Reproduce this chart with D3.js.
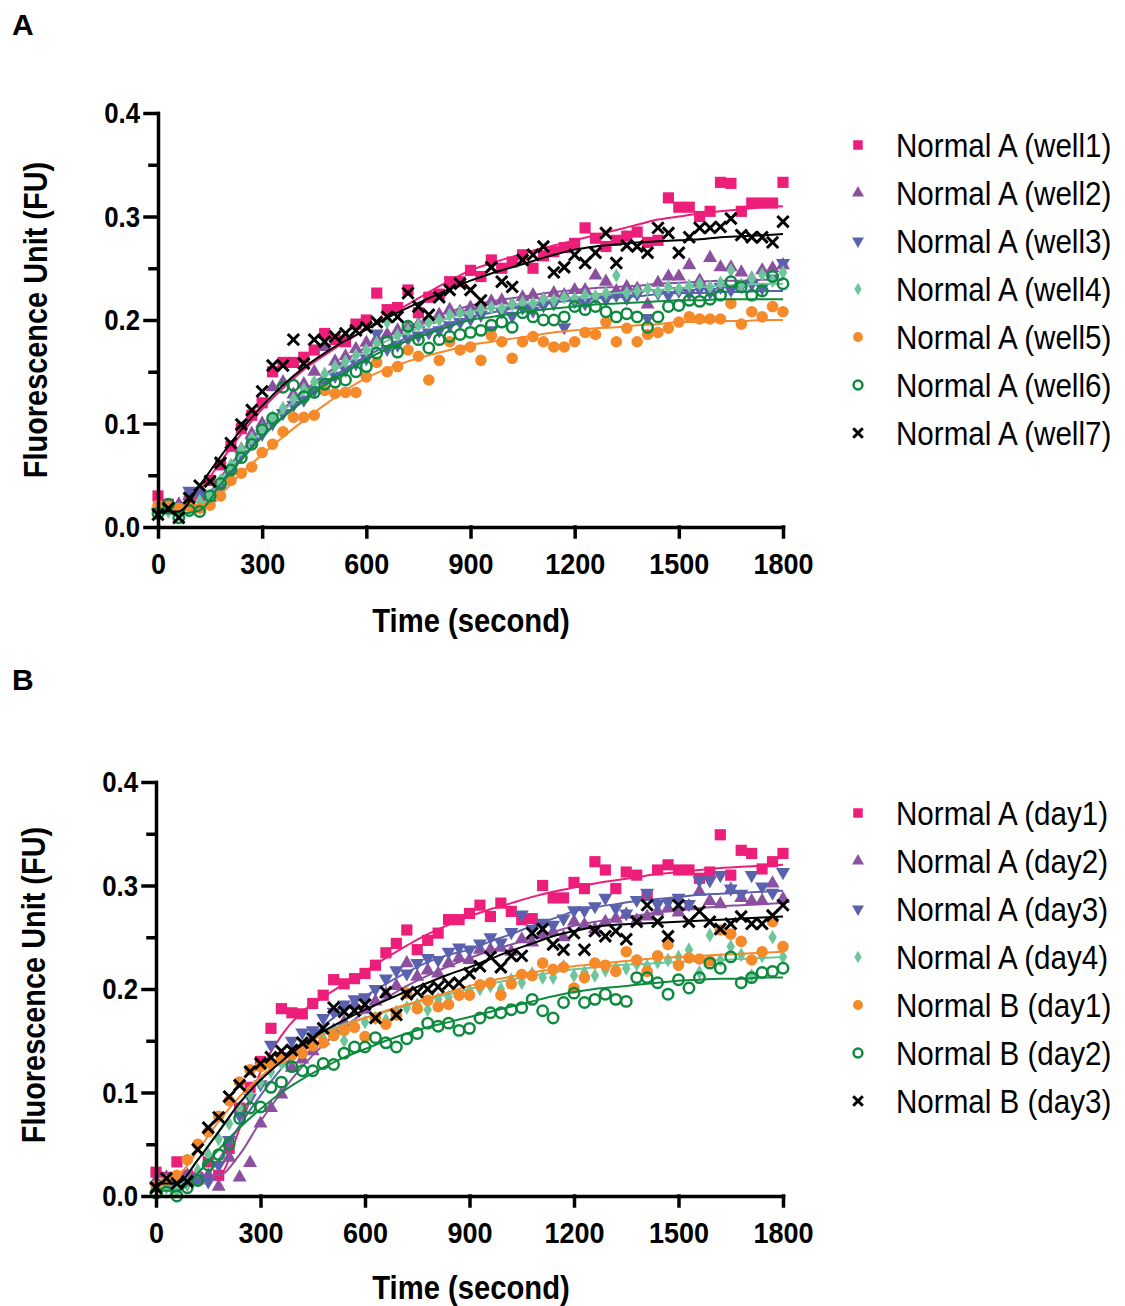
<!DOCTYPE html>
<html>
<head>
<style>
  body { margin: 0; background: #fff; }
  text { font-family: "Liberation Sans", Arial, sans-serif; fill: #000; }
  .axis path, .axis line { stroke: #000; stroke-width: 3.5; stroke-linecap: square; }
  .axis text { font-size: 30px; font-weight: bold; }
  .title { font-size: 34px; font-weight: bold; }
  .legend text { font-size: 34px; }
  .panel-label { font-size: 30px; font-weight: bold; }
</style>
</head>
<body>
<script src="https://d3js.org/d3.v7.min.js"></script>
<div id="chart"></div>
<script>
// sample times (seconds) of the measured points, and of the fitted curves
var sampleTimes = [0,30,60,90,120,150,180,210,240,270,
  300,330,360,390,420,450,480,510,540,570,
  600,630,660,690,720,750,780,810,840,870,
  900,930,960,990,1020,1050,1080,1110,1140,1170,
  1200,1230,1260,1290,1320,1350,1380,1410,1440,1470,
  1500,1530,1560,1590,1620,1650,1680,1710,1740,1770,
  1800];
var fitTimes = [0,60,120,180,240,300,360,420,480,540,
  600,660,720,780,840,900,960,1020,1080,1140,
  1200,1260,1320,1380,1440,1500,1560,1620,1680,1740,
  1800];

var xTicks = [0, 300, 600, 900, 1200, 1500, 1800];
var yTicks = [0, 0.1, 0.2, 0.3, 0.4];
var yMinorTicks = [0.05, 0.15, 0.25, 0.35];

// ---- panel A : wells ----
var namesA = ["Normal A (well1)", "Normal A (well2)", "Normal A (well3)", "Normal A (well4)",
              "Normal A (well5)", "Normal A (well6)", "Normal A (well7)"];

var aWell1 = [0.030,0.022,0.018,0.025,0.030,0.045,0.060,0.078,0.095,0.108,
  0.120,0.150,0.159,0.159,0.164,0.171,0.187,0.181,0.179,0.196,
  0.200,0.226,0.210,0.212,0.229,0.207,0.222,0.225,0.237,0.237,
  0.248,0.242,0.258,0.250,0.256,0.263,0.250,0.262,0.266,0.270,
  0.274,0.289,0.279,0.271,0.277,0.281,0.285,0.275,0.277,0.318,
  0.309,0.309,0.300,0.305,0.333,0.332,0.305,0.313,0.313,0.313,
  0.333];
var aWell1Fit = [0.017,0.017,0.035,0.063,0.090,0.114,0.134,0.152,0.166,0.179,
  0.191,0.203,0.215,0.227,0.238,0.248,0.255,0.261,0.267,0.272,
  0.277,0.282,0.287,0.292,0.297,0.300,0.303,0.305,0.307,0.309,
  0.310];

var aWell2 = [0.020,0.018,0.022,0.030,0.032,0.028,0.040,0.058,0.075,0.090,
  0.100,0.135,0.140,0.128,0.138,0.150,0.174,0.160,0.165,0.172,
  0.178,0.182,0.186,0.190,0.193,0.196,0.200,0.205,0.210,0.208,
  0.212,0.214,0.218,0.219,0.215,0.222,0.224,0.220,0.226,0.224,
  0.229,0.229,0.243,0.237,0.228,0.232,0.230,0.215,0.236,0.242,
  0.242,0.253,0.238,0.260,0.251,0.251,0.246,0.240,0.248,0.250,
  0.253];
var aWell2Fit = [0.018,0.018,0.022,0.048,0.073,0.095,0.114,0.131,0.147,0.161,
  0.174,0.184,0.193,0.201,0.208,0.214,0.218,0.221,0.224,0.227,
  0.229,0.231,0.232,0.233,0.235,0.236,0.237,0.238,0.238,0.239,
  0.239];

var aWell3 = [0.015,0.018,0.020,0.035,0.032,0.025,0.038,0.055,0.070,0.082,
  0.090,0.100,0.110,0.118,0.123,0.132,0.140,0.146,0.152,0.158,
  0.163,0.187,0.172,0.176,0.182,0.185,0.188,0.190,0.195,0.198,
  0.201,0.205,0.190,0.208,0.204,0.212,0.209,0.214,0.216,0.193,
  0.218,0.216,0.222,0.220,0.224,0.221,0.225,0.202,0.226,0.224,
  0.228,0.226,0.230,0.227,0.232,0.229,0.233,0.235,0.231,0.240,
  0.255];
var aWell3Fit = [0.017,0.017,0.019,0.043,0.067,0.088,0.107,0.124,0.139,0.153,
  0.165,0.175,0.183,0.190,0.197,0.203,0.207,0.211,0.214,0.217,
  0.219,0.221,0.222,0.223,0.225,0.226,0.226,0.227,0.227,0.228,
  0.228];

var aWell4 = [0.018,0.015,0.016,0.020,0.025,0.030,0.045,0.060,0.075,0.086,
  0.095,0.106,0.115,0.124,0.133,0.140,0.148,0.155,0.160,0.166,
  0.171,0.178,0.198,0.185,0.190,0.195,0.198,0.200,0.205,0.207,
  0.206,0.210,0.212,0.211,0.215,0.217,0.216,0.220,0.219,0.222,
  0.221,0.224,0.223,0.226,0.243,0.226,0.228,0.230,0.227,0.232,
  0.230,0.233,0.235,0.232,0.236,0.248,0.234,0.240,0.244,0.238,
  0.246];
var aWell4Fit = [0.016,0.016,0.020,0.046,0.071,0.093,0.112,0.129,0.145,0.158,
  0.170,0.180,0.188,0.196,0.202,0.208,0.211,0.214,0.217,0.220,
  0.222,0.224,0.226,0.228,0.229,0.231,0.232,0.233,0.234,0.235,
  0.235];

var aWell5 = [0.021,0.020,0.018,0.020,0.018,0.021,0.030,0.045,0.052,0.058,
  0.072,0.080,0.092,0.106,0.106,0.108,0.132,0.129,0.130,0.130,
  0.145,0.159,0.150,0.155,0.171,0.165,0.142,0.161,0.179,0.171,
  0.174,0.161,0.185,0.179,0.163,0.179,0.184,0.179,0.174,0.174,
  0.179,0.188,0.186,0.198,0.179,0.192,0.179,0.186,0.188,0.192,
  0.198,0.203,0.201,0.201,0.201,0.216,0.196,0.208,0.203,0.213,
  0.208];
var aWell5Fit = [0.020,0.020,0.020,0.032,0.052,0.070,0.087,0.103,0.118,0.132,
  0.144,0.153,0.160,0.166,0.171,0.176,0.179,0.182,0.185,0.188,
  0.190,0.192,0.193,0.195,0.196,0.198,0.198,0.199,0.199,0.200,
  0.200];

var aWell6 = [0.013,0.022,0.009,0.016,0.015,0.030,0.042,0.055,0.067,0.080,
  0.094,0.105,0.135,0.137,0.126,0.130,0.138,0.140,0.142,0.150,
  0.155,0.168,0.179,0.169,0.194,0.181,0.173,0.181,0.184,0.186,
  0.188,0.190,0.195,0.198,0.193,0.207,0.203,0.200,0.200,0.203,
  0.213,0.210,0.213,0.208,0.203,0.206,0.203,0.193,0.203,0.213,
  0.214,0.219,0.218,0.220,0.224,0.237,0.232,0.224,0.228,0.242,
  0.235];
var aWell6Fit = [0.013,0.013,0.016,0.041,0.065,0.087,0.106,0.122,0.137,0.150,
  0.162,0.172,0.180,0.187,0.194,0.200,0.203,0.206,0.209,0.211,
  0.213,0.215,0.216,0.217,0.218,0.219,0.219,0.220,0.220,0.220,
  0.220];

var aWell7 = [0.012,0.018,0.009,0.028,0.040,0.044,0.062,0.081,0.099,0.113,
  0.131,0.156,0.156,0.181,0.158,0.181,0.179,0.184,0.187,0.190,
  0.193,0.198,0.203,0.203,0.226,0.213,0.205,0.222,0.229,0.235,
  0.229,0.219,0.251,0.237,0.232,0.258,0.263,0.271,0.246,0.251,
  0.263,0.255,0.265,0.284,0.255,0.272,0.271,0.265,0.289,0.284,
  0.265,0.280,0.289,0.289,0.290,0.298,0.282,0.280,0.280,0.275,
  0.295];
var aWell7Fit = [0.015,0.015,0.040,0.068,0.094,0.117,0.137,0.154,0.168,0.180,
  0.191,0.202,0.212,0.221,0.230,0.238,0.245,0.251,0.257,0.263,
  0.268,0.271,0.273,0.275,0.276,0.277,0.278,0.280,0.281,0.282,
  0.283];

// ---- panel B : days ----
var namesB = ["Normal A (day1)", "Normal A (day2)", "Normal A (day3)", "Normal A (day4)",
              "Normal B (day1)", "Normal B (day2)", "Normal B (day3)"];

var bDay1A = [0.023,0.018,0.033,0.020,0.018,0.033,0.020,0.046,0.085,0.105,
  0.130,0.162,0.181,0.177,0.176,0.186,0.194,0.209,0.205,0.210,
  0.215,0.223,0.235,0.244,0.257,0.238,0.247,0.254,0.267,0.267,
  0.273,0.281,0.270,0.283,0.275,0.267,0.268,0.300,0.288,0.288,
  0.303,0.297,0.323,0.315,0.297,0.313,0.310,0.291,0.315,0.320,
  0.315,0.315,0.307,0.313,0.349,0.310,0.334,0.331,0.316,0.323,
  0.331];
var bDay1AFit = [0.020,0.020,0.020,0.020,0.065,0.120,0.155,0.178,0.192,0.205,
  0.217,0.230,0.242,0.253,0.262,0.270,0.277,0.283,0.289,0.294,
  0.298,0.302,0.305,0.308,0.311,0.313,0.315,0.317,0.318,0.319,
  0.320];

var bDay2A = [0.015,0.018,0.012,0.020,0.015,0.020,0.009,0.037,0.018,0.032,
  0.070,0.085,0.098,0.124,0.132,0.140,0.150,0.160,0.168,0.185,
  0.180,0.188,0.195,0.203,0.225,0.212,0.218,0.215,0.225,0.230,
  0.228,0.238,0.238,0.240,0.236,0.248,0.245,0.252,0.255,0.250,
  0.265,0.262,0.258,0.265,0.268,0.272,0.266,0.270,0.275,0.278,
  0.274,0.280,0.294,0.285,0.282,0.296,0.288,0.285,0.285,0.302,
  0.287];
var bDay2AFit = [0.020,0.020,0.020,0.020,0.040,0.072,0.100,0.125,0.146,0.163,
  0.178,0.191,0.203,0.213,0.222,0.230,0.237,0.243,0.249,0.255,
  0.261,0.265,0.268,0.271,0.274,0.276,0.278,0.280,0.281,0.282,
  0.283];

var bDay3A = [0.010,0.012,0.008,0.012,0.017,0.014,0.030,0.054,0.078,0.095,
  0.108,0.146,0.135,0.150,0.158,0.160,0.172,0.178,0.185,0.190,
  0.192,0.200,0.210,0.218,0.215,0.225,0.230,0.228,0.236,0.240,
  0.238,0.244,0.250,0.245,0.255,0.272,0.258,0.264,0.262,0.268,
  0.276,0.276,0.280,0.288,0.278,0.273,0.286,0.293,0.282,0.284,
  0.288,0.282,0.305,0.305,0.310,0.297,0.292,0.310,0.299,0.293,
  0.313];
var bDay3AFit = [0.011,0.011,0.012,0.035,0.068,0.097,0.123,0.145,0.164,0.180,
  0.193,0.205,0.216,0.226,0.233,0.238,0.246,0.253,0.261,0.268,
  0.275,0.279,0.282,0.285,0.287,0.289,0.291,0.292,0.293,0.294,
  0.295];

var bDay4A = [0.010,0.008,0.005,0.012,0.025,0.040,0.055,0.070,0.085,0.098,
  0.110,0.120,0.128,0.135,0.142,0.148,0.152,0.158,0.150,0.165,
  0.168,0.172,0.170,0.178,0.182,0.185,0.180,0.190,0.192,0.195,
  0.198,0.200,0.203,0.200,0.209,0.206,0.215,0.211,0.211,0.222,
  0.213,0.216,0.213,0.218,0.220,0.220,0.224,0.222,0.226,0.228,
  0.231,0.238,0.216,0.252,0.228,0.241,0.233,0.213,0.232,0.250,
  0.231];
var bDay4AFit = [0.008,0.010,0.035,0.063,0.089,0.112,0.131,0.146,0.158,0.166,
  0.172,0.178,0.184,0.190,0.195,0.200,0.205,0.209,0.213,0.216,
  0.219,0.221,0.223,0.224,0.225,0.226,0.227,0.228,0.229,0.230,
  0.231];

var bDay1B = [0.010,0.015,0.020,0.035,0.050,0.062,0.077,0.092,0.110,0.122,
  0.125,0.128,0.133,0.136,0.138,0.145,0.148,0.155,0.160,0.163,
  0.154,0.172,0.166,0.175,0.196,0.181,0.189,0.183,0.185,0.194,
  0.194,0.204,0.206,0.194,0.205,0.214,0.213,0.225,0.219,0.221,
  0.201,0.211,0.225,0.223,0.217,0.236,0.228,0.217,0.232,0.243,
  0.223,0.230,0.229,0.227,0.257,0.253,0.246,0.228,0.236,0.265,
  0.241];
var bDay1BFit = [0.010,0.018,0.044,0.072,0.096,0.115,0.131,0.145,0.156,0.165,
  0.172,0.179,0.185,0.191,0.197,0.203,0.208,0.212,0.216,0.219,
  0.222,0.224,0.226,0.228,0.230,0.231,0.232,0.233,0.234,0.235,
  0.236];

var bDay2B = [0.003,0.004,0.000,0.008,0.015,0.030,0.040,0.050,0.075,0.085,
  0.086,0.105,0.110,0.125,0.121,0.121,0.128,0.127,0.138,0.144,
  0.144,0.153,0.148,0.144,0.152,0.157,0.167,0.164,0.167,0.160,
  0.162,0.172,0.177,0.177,0.180,0.182,0.190,0.179,0.172,0.187,
  0.196,0.187,0.190,0.195,0.190,0.188,0.211,0.211,0.206,0.195,
  0.209,0.201,0.211,0.225,0.220,0.231,0.206,0.211,0.216,0.217,
  0.220];
var bDay2BFit = [0.005,0.005,0.022,0.045,0.066,0.084,0.100,0.113,0.124,0.134,
  0.142,0.150,0.157,0.163,0.168,0.173,0.178,0.183,0.188,0.193,
  0.197,0.200,0.202,0.204,0.206,0.208,0.209,0.210,0.210,0.211,
  0.211];

var bDay3B = [0.008,0.017,0.012,0.014,0.045,0.066,0.076,0.096,0.107,0.120,
  0.128,0.134,0.140,0.141,0.148,0.152,0.162,0.182,0.178,0.179,
  0.185,0.172,0.197,0.175,0.195,0.197,0.200,0.202,0.205,0.206,
  0.215,0.222,0.231,0.221,0.232,0.232,0.254,0.258,0.243,0.238,
  0.254,0.238,0.256,0.251,0.256,0.248,0.265,0.281,0.265,0.251,
  0.281,0.265,0.275,0.265,0.258,0.263,0.270,0.263,0.263,0.271,
  0.281];
var bDay3BFit = [0.012,0.012,0.035,0.062,0.090,0.112,0.130,0.146,0.159,0.170,
  0.180,0.189,0.198,0.206,0.214,0.221,0.229,0.237,0.244,0.251,
  0.256,0.260,0.262,0.263,0.264,0.265,0.266,0.267,0.268,0.269,
  0.270];

// symbol and colour of each series slot (same for both panels)
var styles = [
  {color: "#ED1E79", shape: "square"},
  {color: "#8C50A0", shape: "triUp"},
  {color: "#5A62AD", shape: "triDown"},
  {color: "#6DC59B", shape: "diamond"},
  {color: "#F58A2A", shape: "circle"},
  {color: "#0E8A3F", shape: "ring"},
  {color: "#000000", shape: "times"}
];

var panels = [
  {label: "A", labelY: 35, left: 158, top: 113, bottom: 527, titleY: 632, yTitleX: 47, yTitleY: 320,
   legendY: 145, names: namesA,
   points: [aWell1, aWell2, aWell3, aWell4, aWell5, aWell6, aWell7],
   fits: [aWell1Fit, aWell2Fit, aWell3Fit, aWell4Fit, aWell5Fit, aWell6Fit, aWell7Fit]},
  {label: "B", labelY: 690, left: 156, top: 782, bottom: 1196, titleY: 1299, yTitleX: 45, yTitleY: 985,
   legendY: 813, names: namesB,
   points: [bDay1A, bDay2A, bDay3A, bDay4A, bDay1B, bDay2B, bDay3B],
   fits: [bDay1AFit, bDay2AFit, bDay3AFit, bDay4AFit, bDay1BFit, bDay2BFit, bDay3BFit]}
];

var svg = d3.select("#chart").append("svg")
    .attr("width", 1125)
    .attr("height", 1306);

// squeeze texts horizontally (the original uses a narrow face), keeping their anchor x
function condense(sel, f) {
  sel.each(function() {
    var t = d3.select(this);
    var x0 = +t.attr("x") || 0;
    var prev = t.attr("transform") || "";
    t.attr("transform", prev + " translate(" + (x0 * (1 - f)) + ",0) scale(" + f + ",1)");
  });
}

// draw one marker of a given shape into a selection
function addMarker(sel, style, k) {
  var s = style.shape, path;
  if (s === "square") path = d3.symbol(d3.symbolSquare, 125 * k * k);
  else if (s === "triUp" || s === "triDown") path = d3.symbol(d3.symbolTriangle, 85 * k * k);
  else if (s === "diamond") path = d3.symbol(d3.symbolDiamond, 62 * k * k);
  else if (s === "circle") path = d3.symbol(d3.symbolCircle, 105 * k * k);
  else if (s === "ring") path = d3.symbol(d3.symbolCircle, 85 * k * k);
  else path = d3.symbol(d3.symbolTimes, 85 * k * k);

  var p = sel.append("path").attr("d", path);
  if (s === "triDown") p.attr("transform", "rotate(180)");
  if (s === "ring") {
    p.attr("fill", "none").attr("stroke", style.color).attr("stroke-width", 2.5);
  } else if (s === "times") {
    p.attr("fill", "none").attr("stroke", style.color).attr("stroke-width", 3);
  } else {
    p.attr("fill", style.color);
  }
}

panels.forEach(function(panel) {
  var x = d3.scaleLinear().domain([0, 1800]).range([panel.left, 783]);
  var y = d3.scaleLinear().domain([0, 0.4]).range([panel.bottom, panel.top]);

  // Panel letter
  svg.append("text")
      .attr("class", "panel-label")
      .attr("x", 12)
      .attr("y", panel.labelY)
      .text(panel.label);

  // points and fitted curves
  var line = d3.line()
      .x(function(d) { return x(d[0]); })
      .y(function(d) { return y(d[1]); })
      .curve(d3.curveMonotoneX);

  panel.points.forEach(function(vals, i) {
    var st = styles[i];
    var g = svg.append("g");
    vals.forEach(function(v, j) {
      var m = g.append("g")
          .attr("transform", "translate(" + x(sampleTimes[j]) + "," + y(v) + ")");
      addMarker(m, st, 1);
    });
    var fit = panel.fits[i].map(function(v, j) { return [fitTimes[j], v]; });
    svg.append("path")
        .datum(fit)
        .attr("d", line)
        .attr("fill", "none")
        .attr("stroke", st.color)
        .attr("stroke-width", 2);
  });

  // Axes
  var yAxis = svg.append("g")
      .attr("class", "axis")
      .attr("transform", "translate(" + panel.left + ",0)")
      .call(d3.axisLeft(y).tickValues(yTicks).tickSize(13).tickSizeOuter(0)
            .tickPadding(5).tickFormat(d3.format(".1f")));
  svg.append("g")
      .attr("class", "axis")
      .attr("transform", "translate(" + panel.left + ",0)")
      .call(d3.axisLeft(y).tickValues(yMinorTicks).tickSize(8).tickSizeOuter(0).tickFormat(""))
    .select(".domain").remove();
  var xAxis = svg.append("g")
      .attr("class", "axis")
      .attr("transform", "translate(0," + panel.bottom + ")")
      .call(d3.axisBottom(x).tickValues(xTicks).tickSize(10).tickSizeOuter(0)
            .tickPadding(16).tickFormat(d3.format("d")));
  condense(yAxis.selectAll("text"), 0.86);
  condense(xAxis.selectAll("text"), 0.9);

  // Axis titles
  var xt = svg.append("text")
      .attr("class", "title")
      .attr("x", 471)
      .attr("y", panel.titleY)
      .attr("text-anchor", "middle")
      .text("Time (second)");
  var yt = svg.append("text")
      .attr("class", "title")
      .attr("transform", "translate(" + panel.yTitleX + "," + panel.yTitleY + ") rotate(-90)")
      .attr("text-anchor", "middle")
      .text("Fluorescence Unit (FU)");
  condense(xt, 0.86);
  condense(yt, 0.85);

  // Legend
  var legend = svg.append("g").attr("class", "legend");
  panel.names.forEach(function(name, i) {
    var row = legend.append("g")
        .attr("transform", "translate(858," + (panel.legendY + i * 48) + ")");
    addMarker(row, styles[i], 0.85);
    var t = row.append("text")
        .attr("x", 38)
        .attr("y", 12)
        .text(name);
    condense(t, 0.87);
  });
});
</script>
</body>
</html>
